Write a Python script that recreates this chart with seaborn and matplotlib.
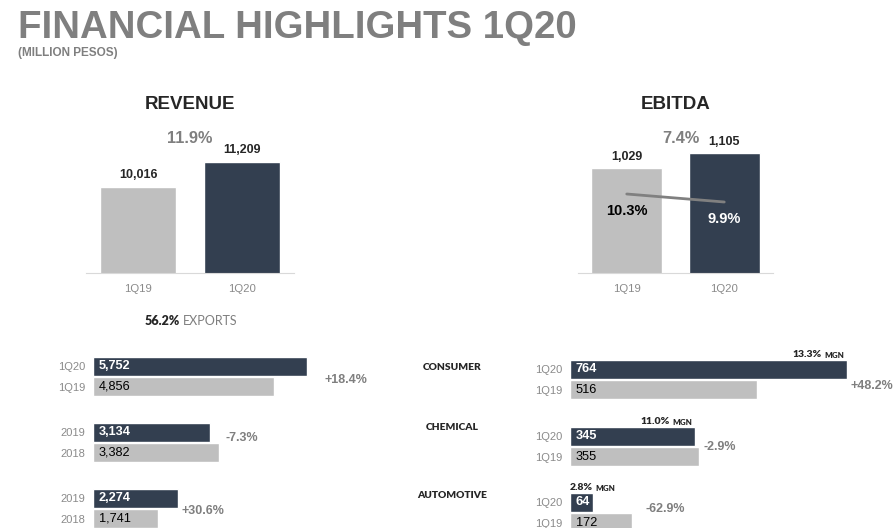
import numpy as np
import pandas as pd
import matplotlib.pyplot as plt
import seaborn as sns

# top panels
periods = ['1Q19', '1Q20']
revenue = [10016, 11209]
ebitda = [1029, 1105]
ebitda_margin = [10.3, 9.9]
revenue_growth = '11.9%'
ebitda_growth = '7.4%'
exports_share = '56.2%'

# segment panels
segments = ['CONSUMER', 'CHEMICAL', 'AUTOMOTIVE']
rev_periods = [['1Q20', '1Q19'], ['2019', '2018'], ['2019', '2018']]
rev_values = [[5752, 4856], [3134, 3382], [2274, 1741]]
rev_change = ['+18.4%', '-7.3%', '+30.6%']
ebitda_periods = [['1Q20', '1Q19'], ['1Q20', '1Q19'], ['1Q20', '1Q19']]
ebitda_values = [[764, 516], [345, 355], [64, 172]]
ebitda_change = ['+48.2%', '-2.9%', '-62.9%']
segment_margin = ['13.3%', '11.0%', '2.8%']

NAVY = '#333F50'
GREY = '#BFBFBF'
TXT_GREY = '#7F7F7F'
TICK = '#8A8A8A'
LINE = '#D9D9D9'
LATO = ['Lato', 'DejaVu Sans']

sns.set_style('white')
plt.rcParams['font.family'] = ['Liberation Sans', 'DejaVu Sans']

W, H = 894, 528
fig = plt.figure(figsize=(W / 100, H / 100), dpi=100)


def px_axes(x, y, w, h):
    return fig.add_axes([x / W, 1 - (y + h) / H, w / W, h / H])


def column_panel(x, w, values, ylim, title, growth, growth_x):
    ax = px_axes(x, 130, w, 143)
    df = pd.DataFrame({'period': periods, 'value': values})
    sns.barplot(data=df, x='period', y='value', hue='period', palette=[GREY, NAVY],
                width=0.73, saturation=1, legend=False, ax=ax)
    ax.set_xlim(-0.5, 1.5)
    ax.set_ylim(*ylim)
    for c in ax.containers:
        ax.bar_label(c, fmt='{:,.0f}', padding=4, fontsize=9, fontweight='bold')
    for s in ['top', 'left', 'right']:
        ax.spines[s].set_visible(False)
    ax.spines['bottom'].set_color(LINE)
    ax.set_yticks([])
    ax.set_xticks([-0.5, 0.5, 1.5], minor=True)
    ax.tick_params(axis='x', which='major', length=0, colors=TICK, labelsize=8.2, pad=8)
    ax.tick_params(axis='x', which='minor', length=5, color=LINE, direction='out')
    ax.set_xlabel('')
    ax.set_ylabel('')
    ax.text(0.5, 1.175, title, transform=ax.transAxes, ha='center', va='center',
            fontsize=13.5, fontweight='bold')
    ax.text(growth_x, 0.94, growth, transform=ax.transAxes, ha='center', va='center',
            fontsize=11.7, fontweight='bold', color=TXT_GREY)
    return ax


ax_rev = column_panel(86, 208, revenue, (5900, 12740), 'REVENUE', revenue_growth, 0.5)
ax_ebt = column_panel(578, 195, ebitda, (497, 1223), 'EBITDA', ebitda_growth, 0.53)

# EBITDA margin line
ax_m = ax_ebt.twinx()
ax_m.plot(np.arange(len(periods)), ebitda_margin, color='#808080', lw=2)
ax_m.set_ylim(6.35, 13.5)
ax_m.axis('off')
for i, m in enumerate(ebitda_margin):
    ax_m.annotate(f'{m:.1f}%', (i, m), xytext=(0, -12), textcoords='offset points',
                  ha='center', va='center', fontsize=10.5, fontweight='bold',
                  color=['black', 'white'][i])

# exports share
pct = ax_rev.annotate(exports_share, xy=(0.45, -0.335), xycoords='axes fraction',
                      ha='right', va='center', fontsize=9, fontweight='heavy', family=LATO)
ax_rev.annotate('EXPORTS', xy=(1, 0), xycoords=pct, xytext=(2, 0), textcoords='offset points',
                ha='left', va='bottom', fontsize=9, color=TXT_GREY, family=LATO)


def segment_group(x, y, labels, values, xmax, change, dx, cy, margin=None):
    ax = px_axes(x, y, 320, 41)
    df = pd.DataFrame({'period': labels, 'value': values})
    sns.barplot(data=df, y='period', x='value', hue='period', palette=[NAVY, GREY],
                width=0.93, orient='h', saturation=1, legend=False, ax=ax)
    ax.set_xlim(0, xmax)
    ax.set_ylim(1.5, -0.5)
    for s in ax.spines.values():
        s.set_visible(False)
    ax.set_xticks([])
    ax.tick_params(axis='y', length=0, colors=TICK, labelsize=8, pad=5.5)
    ax.set_xlabel('')
    ax.set_ylabel('')
    for i, v in enumerate(values):
        ax.annotate(f'{v:,}', (0, i), xytext=(4, 0), textcoords='offset points',
                    va='center', ha='left', fontsize=9.2,
                    color=['white', 'black'][i], fontweight=['bold', 'normal'][i])
    ax.annotate(change, (max(values), cy), xytext=(dx * 0.72, 0), textcoords='offset points',
                va='center', ha='left', fontsize=9, fontweight='bold', color=TXT_GREY)
    if margin is not None:
        if values[0] / xmax > 0.15:
            mgn = ax.annotate('MGN', (values[0], -0.5), xytext=(-2, 0), textcoords='offset points',
                              ha='right', va='bottom', fontsize=5.8, fontweight='heavy', family=LATO)
            ax.annotate(margin, xy=(0, 0), xycoords=mgn, xytext=(-2, 0), textcoords='offset points',
                        ha='right', va='bottom', fontsize=7.5, fontweight='heavy', family=LATO)
        else:
            p = ax.annotate(margin, (0, -0.5), xytext=(0, 0), textcoords='offset points',
                            ha='left', va='bottom', fontsize=7.5, fontweight='heavy', family=LATO)
            ax.annotate('MGN', xy=(1, 0), xycoords=p, xytext=(2, 0), textcoords='offset points',
                        ha='left', va='bottom', fontsize=5.8, fontweight='heavy', family=LATO)
    return ax


left_tops = [356, 422, 488]
right_tops = [359, 426, 492]
left_dx, left_cy = [18, 7, 4], [0.68, 0.26, 0.64]
right_dx, right_cy = [3, 5, 13], [0.8, 0.5, 0.35]
name_y = [367, 428, 496]

for k in range(len(segments)):
    segment_group(93, left_tops[k], rev_periods[k], rev_values[k], 8602,
                  rev_change[k], left_dx[k], left_cy[k])
    segment_group(570, right_tops[k], ebitda_periods[k], ebitda_values[k], 882.5,
                  ebitda_change[k], right_dx[k], right_cy[k], segment_margin[k])
    fig.text(452 / W, 1 - name_y[k] / H, segments[k], ha='center', va='center',
             fontsize=7.4, fontweight='heavy', family=LATO)

fig.text(18 / W, 1 - 38 / H, 'FINANCIAL HIGHLIGHTS 1Q20', ha='left', va='baseline',
         fontsize=27.6, fontweight='bold', color=TXT_GREY)
fig.text(18 / W, 1 - 56 / H, '(MILLION PESOS)', ha='left', va='baseline',
         fontsize=8.5, fontweight='bold', color=TXT_GREY)

fig.savefig('out.png', dpi=100)
